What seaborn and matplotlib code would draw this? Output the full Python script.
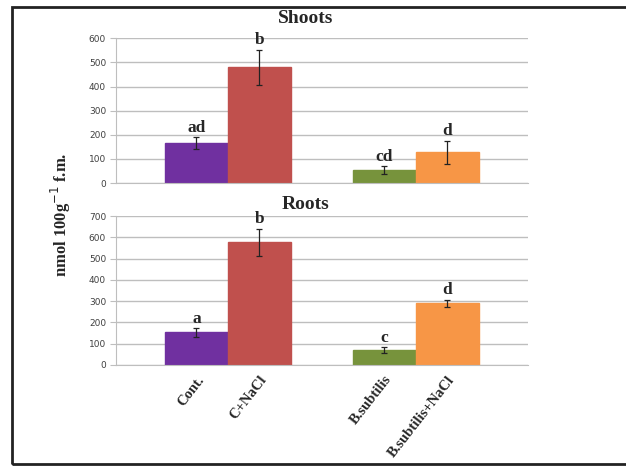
import pandas as pd
import matplotlib.pyplot as plt
import matplotlib.patches as mpatches
import seaborn as sns

# data
groups = ["Cont.", "Cont.", "B.subtilis", "B.subtilis"]
salt = ["no", "NaCl", "no", "NaCl"]
tick_labels = ["Cont.", "C+NaCl", "B.subtilis", "B.subtilis+NaCl"]
shoots = [165, 480, 54, 128]
shoots_err = [25, 72, 15, 47]
shoots_letters = ["ad", "b", "cd", "d"]
roots = [153, 577, 70, 290]
roots_err = [20, 63, 12, 17]
roots_letters = ["a", "b", "c", "d"]

colors = ["#7030A0", "#C0504D", "#77933C", "#F79646"]

sns.set_style("white")
serif = ["Liberation Serif", "DejaVu Serif"]

fig = plt.figure(figsize=(6.26, 4.66), dpi=100)
ax1 = fig.add_axes([0.185, 0.607, 0.658, 0.311])
ax2 = fig.add_axes([0.185, 0.217, 0.658, 0.319])


def draw(ax, vals, errs, letters, title, ymax, pad):
    df = pd.DataFrame({"group": groups, "salt": salt, "val": vals})
    sns.barplot(data=df, x="group", y="val", hue="salt", ax=ax, width=0.67,
                legend=False, errorbar=None, saturation=1)
    bars = sorted(ax.patches, key=lambda p: p.get_x())
    for bar, c in zip(bars, colors):
        bar.set_facecolor(c)
        bar.set_edgecolor(c)
    centers = [b.get_x() + b.get_width() / 2 for b in bars]
    ax.errorbar(centers, vals, yerr=errs, fmt="none", ecolor="#222222",
                elinewidth=0.9, capsize=2.5, capthick=0.9)
    for x, v, e, t in zip(centers, vals, errs, letters):
        ax.text(x, v + e + ymax * 0.01, t, ha="center", va="bottom",
                fontsize=12.5, fontweight="bold", family=serif)
    ax.set_xlim(-0.596, 1.596)
    ax.set_ylim(0, ymax)
    ax.set_yticks(range(0, ymax + 1, 100))
    ax.yaxis.grid(True, color="#BEBEBE", lw=1)
    ax.set_axisbelow(True)
    for s in ["top", "right"]:
        ax.spines[s].set_visible(False)
    for s in ["left", "bottom"]:
        ax.spines[s].set_color("#BEBEBE")
    ax.tick_params(axis="y", labelsize=6.5, labelcolor="#404040", left=True,
                   length=4, color="#BEBEBE", pad=3)
    ax.set_xlabel("")
    ax.set_ylabel("")
    ax.set_title(title, fontsize=14, fontweight="bold", family=serif, pad=pad, x=0.46)
    return centers


draw(ax1, shoots, shoots_err, shoots_letters, "Shoots", 600, 11)
ax1.set_xticks([])
centers = draw(ax2, roots, roots_err, roots_letters, "Roots", 700, 5)
ax2.set_xticks(centers)
ax2.set_xticklabels(tick_labels, rotation=52, ha="right", rotation_mode="anchor",
                    fontsize=10.5, fontweight="bold", family=serif)
ax2.tick_params(axis="x", length=0, pad=6)

fig.text(0.097, 0.54, "nmol 100g$^{-1}$ f.m.", rotation=90, ha="center", va="center",
         fontsize=12, fontweight="bold", family=serif)

fig.patches.append(mpatches.Rectangle((0.019, 0.005), 0.985, 0.98, transform=fig.transFigure,
                                      fill=False, edgecolor="#222222", lw=2))

fig.savefig("out.png", dpi=100)
